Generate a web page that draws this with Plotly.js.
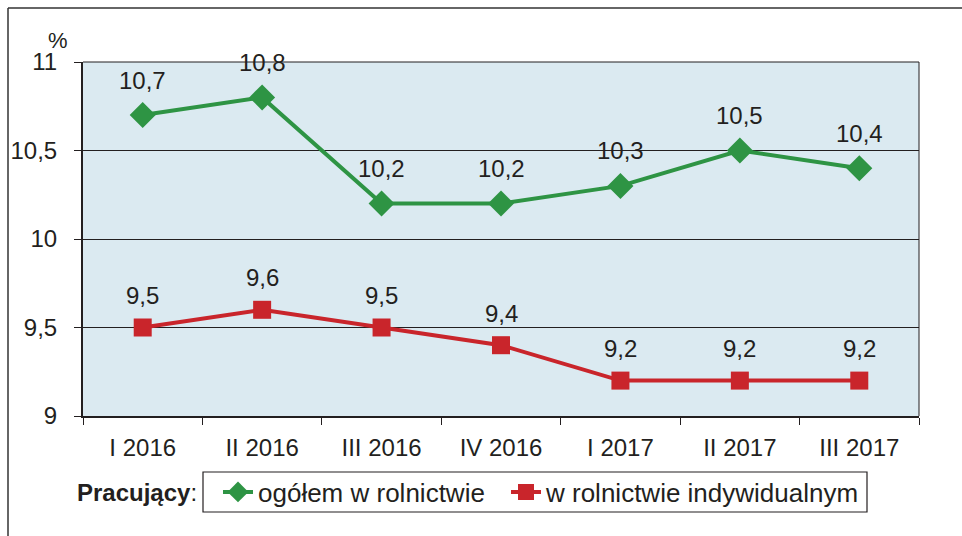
<!DOCTYPE html>
<html>
<head>
<meta charset="utf-8">
<script src="https://cdn.plot.ly/plotly-3.0.1.min.js"></script>
<style>html,body{margin:0;padding:0;background:#fff;}#chart{width:962px;height:536px;}</style>
</head>
<body>
<div id="chart"></div>
<script>
var categories = ["I 2016","II 2016","III 2016","IV 2016","I 2017","II 2017","III 2017"];
var ogolem = [10.7, 10.8, 10.2, 10.2, 10.3, 10.5, 10.4];
var indywidualne = [9.5, 9.6, 9.5, 9.4, 9.2, 9.2, 9.2];
var seriesNames = ["ogółem w rolnictwie", "w rolnictwie indywidualnym"];
var yTicks = [9, 9.5, 10, 10.5, 11];

function fmt(v){ return String(v).replace('.', ','); }

var FONT = 'Liberation Sans, Arial, sans-serif';
var GREEN = '#2e9444';
var RED = '#c9252b';
var TXT = '#231f20';

function px2x(p){ return (p - 83) / 836; }
function px2y(p){ return (416 - p) / 354; }

var traces = [
  {
    x: categories, y: ogolem, name: seriesNames[0], type: 'scatter', mode: 'lines+markers',
    line: {color: GREEN, width: 4},
    marker: {symbol: 'diamond', size: 20, color: GREEN},
    legend: 'legend', cliponaxis: false
  },
  {
    x: categories, y: indywidualne, name: seriesNames[1], type: 'scatter', mode: 'lines+markers',
    line: {color: RED, width: 4},
    marker: {symbol: 'square', size: 18, color: RED},
    legend: 'legend2', cliponaxis: false
  }
];

var labelAnns = [];
categories.forEach(function(c, i){
  labelAnns.push({x: c, y: ogolem[i], xref: 'x', yref: 'y', text: fmt(ogolem[i]), showarrow: false,
    yshift: 35, xanchor: 'center', yanchor: 'middle', font: {family: FONT, size: 24, color: TXT}});
  labelAnns.push({x: c, y: indywidualne[i], xref: 'x', yref: 'y', text: fmt(indywidualne[i]), showarrow: false,
    yshift: 32, xanchor: 'center', yanchor: 'middle', font: {family: FONT, size: 24, color: TXT}});
});

var legendCommon = {
  orientation: 'h', yanchor: 'middle', xanchor: 'left',
  borderwidth: 0, bgcolor: 'rgba(0,0,0,0)',
  font: {family: FONT, size: 26, color: TXT}, itemwidth: 30
};

var layout = {
  width: 962, height: 536,
  margin: {l: 83, r: 43, t: 62, b: 120},
  paper_bgcolor: '#ffffff',
  plot_bgcolor: '#dbeaf1',
  font: {family: FONT, size: 24, color: TXT},
  separators: ', ',
  showlegend: true,
  legend: Object.assign({}, legendCommon, {x: px2x(218), y: px2y(492)}),
  legend2: Object.assign({}, legendCommon, {x: px2x(506), y: px2y(492)}),
  xaxis: {
    type: 'category', showgrid: false, zeroline: false,
    showline: true, linecolor: TXT, linewidth: 2,
    ticks: 'outside', tickson: 'boundaries', ticklen: 7, tickcolor: TXT, tickwidth: 1,
    tickfont: {family: FONT, size: 24, color: TXT},
    ticklabelstandoff: 9,
    range: [-0.5, 6.5], fixedrange: true
  },
  yaxis: {
    range: [9, 11], tickvals: yTicks, ticktext: yTicks.map(fmt),
    showgrid: true, gridcolor: TXT, gridwidth: 1, zeroline: false,
    showline: true, linecolor: TXT, linewidth: 2,
    ticks: 'outside', ticklen: 7, tickcolor: TXT, tickwidth: 1,
    tickfont: {family: FONT, size: 24, color: TXT},
    ticklabelstandoff: 12,
    fixedrange: true
  },
  shapes: [
    {type: 'line', xref: 'paper', yref: 'paper', x0: 0, x1: 1, y0: 1, y1: 1, line: {color: TXT, width: 1}},
    {type: 'line', xref: 'paper', yref: 'paper', x0: 1, x1: 1, y0: 0, y1: 1, line: {color: TXT, width: 1}},
    {type: 'line', xref: 'paper', yref: 'paper', x0: px2x(8), x1: 1.06, y0: px2y(8), y1: px2y(8), line: {color: '#333333', width: 1.5}},
    {type: 'line', xref: 'paper', yref: 'paper', x0: px2x(8), x1: px2x(8), y0: px2y(8), y1: -0.36, line: {color: '#333333', width: 1.5}},
    {type: 'rect', xref: 'paper', yref: 'paper', x0: px2x(203), x1: px2x(867), y0: px2y(472), y1: px2y(512), line: {color: TXT, width: 1.2}, fillcolor: 'rgba(0,0,0,0)', layer: 'below'}
  ],
  annotations: labelAnns.concat([
    {xref: 'paper', yref: 'paper', x: px2x(58), y: px2y(40), text: '%', showarrow: false,
     xanchor: 'center', yanchor: 'middle', font: {family: FONT, size: 22, color: TXT}},
    {xref: 'paper', yref: 'paper', x: px2x(199), y: px2y(492), text: '<b>Pracujący</b>:', showarrow: false,
     xanchor: 'right', yanchor: 'middle', font: {family: FONT, size: 24, color: TXT}}
  ])
};

Plotly.newPlot('chart', traces, layout, {displayModeBar: false, staticPlot: true});
</script>
</body>
</html>
